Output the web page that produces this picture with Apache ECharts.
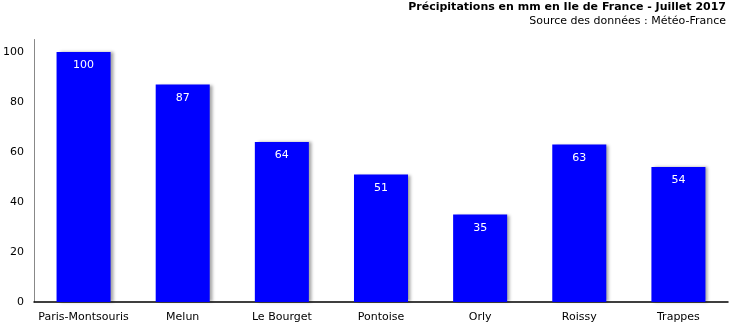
<!DOCTYPE html>
<html><head><meta charset="utf-8">
<script src="https://cdn.jsdelivr.net/npm/echarts@6/dist/echarts.min.js"></script>
<style>html,body{margin:0;padding:0;background:#fff}#c{width:730px;height:326px}</style>
</head><body><div id="c"></div>
<script>
const categories = ["Paris-Montsouris","Melun","Le Bourget","Pontoise","Orly","Roissy","Trappes"];
const values = [100, 87, 64, 51, 35, 63, 54];
const yTicks = [0, 20, 40, 60, 80, 100];
const titleText = "Précipitations en mm en Ile de France - Juillet 2017";
const subText = "Source des données : Météo-France";

const font = "DejaVu Sans, Verdana, sans-serif";
const chart = echarts.init(document.getElementById('c'));
chart.setOption({
  animation: false,
  backgroundColor: '#fff',
  title: [{
    text: titleText, right: 4, top: 2, padding: 0,
    textStyle: {fontFamily: font, fontSize: 11, fontWeight: 'bold', color: '#000'}
  }, {
    text: subText, right: 4, top: 16, padding: 0,
    textStyle: {fontFamily: font, fontSize: 11, fontWeight: 'normal', color: '#000'}
  }],
  grid: {left: 31.5, right: 2, top: 39.5, bottom: 24, containLabel: false},
  xAxis: {
    type: 'category', data: categories,
    axisLine: {lineStyle: {color: '#000', width: 1.5}},
    axisTick: {show: false},
    axisLabel: {fontFamily: font, fontSize: 11, color: '#000', margin: 10, interval: 0}
  },
  yAxis: {
    type: 'value', min: 0, max: 105, interval: 20,
    axisLine: {show: true, lineStyle: {color: '#888'}},
    axisTick: {show: false},
    splitLine: {show: false},
    axisLabel: {fontFamily: font, fontSize: 11, color: '#000', margin: 10,
      formatter: v => yTicks.includes(v) ? String(v) : ''}
  },
  series: [{
    type: 'bar', data: values, barWidth: '54.5%',
    itemStyle: {color: '#0000ff', shadowColor: 'rgba(0,0,0,0.35)', shadowOffsetX: 3, shadowOffsetY: 0, shadowBlur: 3},
    label: {show: true, position: 'insideTop', distance: 8, color: '#fff', fontFamily: font, fontSize: 11}
  }]
});
</script></body></html>
